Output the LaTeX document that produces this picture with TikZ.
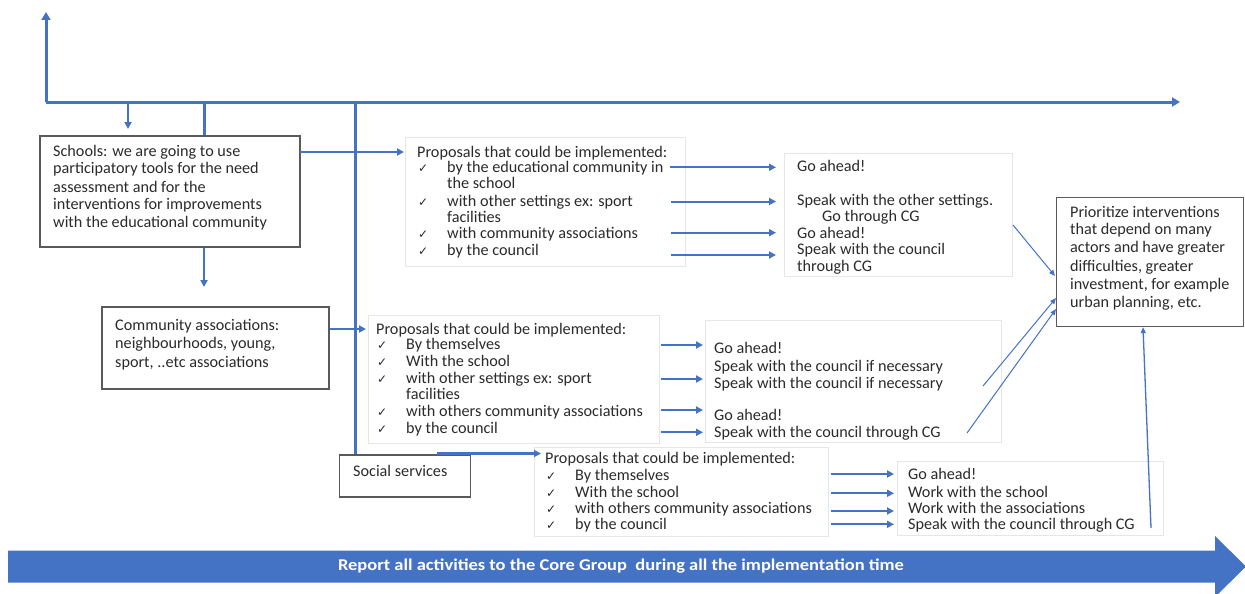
\documentclass[tikz,border=0pt]{standalone}
\usepackage{fontspec}
\setmainfont{Carlito}
\newfontfamily\symfont{DejaVu Sans}
\usetikzlibrary{arrows.meta}
\definecolor{lblue}{HTML}{4472C4}
\definecolor{tcol}{HTML}{2B2B2B}
\definecolor{mbord}{HTML}{5A5A5A}
\definecolor{fbord}{HTML}{E6E6E6}
\tikzset{
  txt/.style={anchor=base west, inner sep=0pt, yshift=-0.8pt, font=\fontsize{16.2pt}{18pt}\selectfont, text=tcol},
  chk/.style={anchor=base west, inner sep=0pt, yshift=-0.8pt, font=\symfont\fontsize{12pt}{13pt}\selectfont, text=tcol},
  mainbox/.style={draw=mbord, line width=1.3pt, fill=white, inner sep=0pt},
  faintbox/.style={draw=fbord, line width=0.8pt, inner sep=0pt},
  frame/.style={draw=lblue, line width=3pt, -{Triangle[length=8pt,width=9pt]}},
  frameline/.style={draw=lblue, line width=3pt},
  arr/.style={draw=lblue, line width=2pt, -{Triangle[length=7pt,width=7pt]}},
  thinarr/.style={draw=lblue, line width=1pt, -{Triangle[length=6pt,width=5pt]}}
}
\begin{document}
\begin{tikzpicture}[x=1pt,y=-1pt]
\useasboundingbox (0,0) rectangle (1245,594);
\fill[white] (0,0) rectangle (1245,594);

% boxes
\node[mainbox, minimum width=260pt, minimum height=111pt] (schools) at (170,191.5) {};
\node[faintbox, minimum width=280pt, minimum height=129pt] (prop1) at (545,201.5) {};
\node[faintbox, minimum width=228pt, minimum height=123pt] (go1) at (898.5,214.5) {};
\node[mainbox, minimum width=187pt, minimum height=129pt] (prio) at (1150,262) {};
\node[mainbox, minimum width=227pt, minimum height=82pt] (comm) at (215.5,348) {};
\node[faintbox, minimum width=291pt, minimum height=128pt] (prop2) at (513.5,379) {};
\node[faintbox, minimum width=296pt, minimum height=122pt] (go2) at (853,381) {};
\node[mainbox, minimum width=131pt, minimum height=42pt] (social) at (405,476) {};
\node[faintbox, minimum width=294pt, minimum height=89pt] (prop3) at (681,491.5) {};
\node[faintbox, minimum width=266pt, minimum height=74pt] (go3) at (1030,498) {};

% frame connectors
\coordinate (corner) at (46,102);
\coordinate (topT) at (46,12);
\coordinate (topR) at (1180,102);
\coordinate (d128) at (128,102);
\coordinate (d128e) at (128,129);
\coordinate (d204) at (204,102);
\coordinate (d355) at (355,102);
\draw[frame] (corner) -- (topT);
\draw[frame] (corner) -- (topR);
\draw[arr, line width=2.5pt] (d128) -- (d128e);
\draw[frameline] (d204) -- (d204 |- schools.north);
\draw[frameline] (d355) -- (d355 |- social.north);

% schools text
\node[txt] (s1) at (53,155.2) {Schools: we are going to use};
\node[txt] (s2) at (53,172.8) {participatory tools for the need};
\node[txt] (s3) at (53,191.2) {assessment and for the};
\node[txt] (s4) at (53,208.5) {interventions for improvements};
\node[txt] (s5) at (53,226.8) {with the educational community};

% schools arrows
\coordinate (sA) at (300,152);
\coordinate (sAe) at (404,152);
\draw[arr, line width=2.5pt] (sA) -- (sAe);
\coordinate (sB) at (204,287);
\draw[arr, line width=2.5pt] (schools.south -| sB) -- (sB);

% proposals 1
\node[txt] (p1t) at (417,156.2) {Proposals that could be implemented:};
\node[chk] (p1c1) at (418,171.8) {✓};
\node[txt] (p1a) at (447,171.8) {by the educational community in};
\node[txt] (p1b) at (447,187.8) {the school};
\node[chk] (p1c2) at (418,205.2) {✓};
\node[txt] (p1c) at (447,205.2) {with other settings ex: sport};
\node[txt] (p1d) at (447,221.8) {facilities};
\node[chk] (p1c3) at (418,237.8) {✓};
\node[txt] (p1e) at (447,237.8) {with community associations};
\node[chk] (p1c4) at (418,254.5) {✓};
\node[txt] (p1f) at (447,254.5) {by the council};

% go ahead 1
\node[txt] (g1a) at (797,170.5) {Go ahead!};
\node[txt] (g1b) at (797,204.5) {Speak with the other settings.};
\node[txt] (g1c) at (822,220.5) {Go through CG};
\node[txt] (g1d) at (797,237.2) {Go ahead!};
\node[txt] (g1e) at (797,253.8) {Speak with the council};
\node[txt] (g1f) at (797,270.5) {through CG};

\foreach \y/\xs in {167.3/670, 201.5/671, 232.7/671, 255/671}{
  \coordinate (u) at (\xs,\y);
  \coordinate (v) at (776,\y);
  \draw[arr] (u) -- (v);
}

% prioritize
\node[txt] (r1) at (1070,216.2) {Prioritize interventions};
\node[txt] (r2) at (1070,233.8) {that depend on many};
\node[txt] (r3) at (1070,251.8) {actors and have greater};
\node[txt] (r4) at (1070,270.5) {difficulties, greater};
\node[txt] (r5) at (1070,288.5) {investment, for example};
\node[txt] (r6) at (1070,306.8) {urban planning, etc.};

% community
\node[txt] (c1) at (115,329.5) {Community associations:};
\node[txt] (c2) at (115,347.8) {neighbourhoods, young,};
\node[txt] (c3) at (115,366.2) {sport, ..etc associations};
\coordinate (cAe) at (366,329);
\draw[arr, line width=2.5pt] (comm.east |- cAe) -- (cAe);

% proposals 2
\node[txt] (p2t) at (376,333.5) {Proposals that could be implemented:};
\node[chk] (p2c1) at (377,348.8) {✓};
\node[txt] (p2a) at (406,348.8) {By themselves};
\node[chk] (p2c2) at (377,365.5) {✓};
\node[txt] (p2b) at (406,365.5) {With the school};
\node[chk] (p2c3) at (377,382.2) {✓};
\node[txt] (p2c) at (406,382.2) {with other settings ex: sport};
\node[txt] (p2d) at (406,398.8) {facilities};
\node[chk] (p2c4) at (377,415.5) {✓};
\node[txt] (p2e) at (406,415.5) {with others community associations};
\node[chk] (p2c5) at (377,432.2) {✓};
\node[txt] (p2f) at (406,432.2) {by the council};

\foreach \y in {345, 379, 410, 432.3}{
  \coordinate (u) at (661,\y);
  \coordinate (v) at (703,\y);
  \draw[arr] (u) -- (v);
}

% go ahead 2
\node[txt] (g2a) at (714,352.8) {Go ahead!};
\node[txt] (g2b) at (714,370.5) {Speak with the council if necessary};
\node[txt] (g2c) at (714,387.8) {Speak with the council if necessary};
\node[txt] (g2d) at (714,419.5) {Go ahead!};
\node[txt] (g2e) at (714,436.8) {Speak with the council through CG};

% social
\node[txt] (ss) at (353,475.2) {Social services};
\coordinate (soA) at (437,453.5);
\coordinate (soB) at (541,453.5);
\draw[arr, line width=2.5pt] (soA) -- (soB);

% proposals 3
\node[txt] (p3t) at (545,462.8) {Proposals that could be implemented:};
\node[chk] (p3c1) at (546,479.5) {✓};
\node[txt] (p3a) at (575,479.5) {By themselves};
\node[chk] (p3c2) at (546,496.2) {✓};
\node[txt] (p3b) at (575,496.2) {With the school};
\node[chk] (p3c3) at (546,512.8) {✓};
\node[txt] (p3c) at (575,512.8) {with others community associations};
\node[chk] (p3c4) at (546,528.8) {✓};
\node[txt] (p3d) at (575,528.8) {by the council};

\foreach \y in {474, 493.3, 511, 524.3}{
  \coordinate (u) at (831,\y);
  \coordinate (v) at (894,\y);
  \draw[arr] (u) -- (v);
}

% go ahead 3
\node[txt] (g3a) at (908,478.5) {Go ahead!};
\node[txt] (g3b) at (908,496.2) {Work with the school};
\node[txt] (g3c) at (908,512.8) {Work with the associations};
\node[txt] (g3d) at (908,528.8) {Speak with the council through CG};

% thin arrows into prioritize
\coordinate (t1s) at (1013,225);
\coordinate (t1e) at (1055,276);
\draw[thinarr] (t1s) -- (t1e);
\coordinate (t2s) at (983,386);
\coordinate (t2e) at (1056,298);
\draw[thinarr] (t2s) -- (t2e);
\coordinate (t3s) at (967,433);
\coordinate (t3e) at (1056,309);
\draw[thinarr] (t3s) -- (t3e);
\coordinate (t4s) at (1151,528);
\draw[thinarr, line width=1.3pt] (t4s) -- (prio.south -| 1143,0);

% bottom big arrow
\fill[lblue] (8,550.5) -- (1215,550.5) -- (1215,536) -- (1246,566.5) -- (1215,597) -- (1215,582.5) -- (8,582.5) -- cycle;
\node[inner sep=0pt, font=\bfseries\fontsize{16.5pt}{18pt}\selectfont, text=white] (rep) at (621,566.5) {\scalebox{1.12}[1]{Report all activities to the Core Group\ \ during all the implementation time}};
\end{tikzpicture}
\end{document}
